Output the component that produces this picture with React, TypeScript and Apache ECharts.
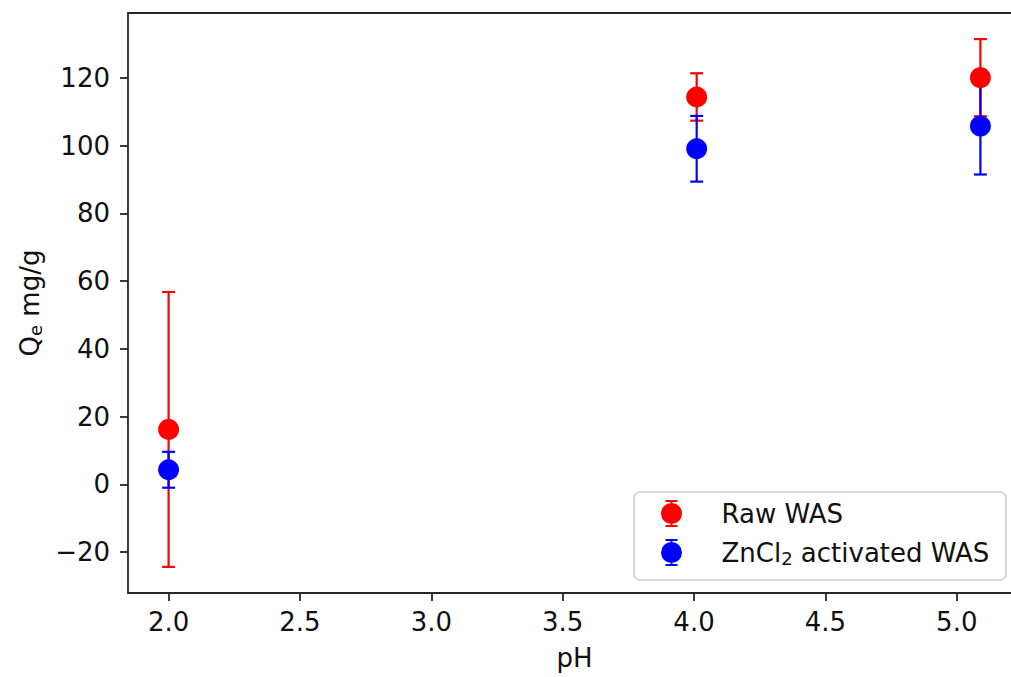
import React, { useEffect, useRef } from "react";
import * as echarts from "echarts";

const phValues = [2.0, 4.01, 5.09];
const rawWas = [16.2, 114.4, 120.1];
const rawWasErr = [40.6, 7.0, 11.4];
const znWas = [4.3, 99.1, 105.8];
const znWasErr = [5.3, 9.7, 14.3];
const xTicks = [2.0, 2.5, 3.0, 3.5, 4.0, 4.5, 5.0];
const yTicks = [-20, 0, 20, 40, 60, 80, 100, 120];

const RAW_NAME = "Raw WAS";
const ZN_NAME = "ZnCl2 activated WAS";

const FONT = "DejaVu Sans";
const FS = 26;
const TXT = "#111111";
const FRAME = "#262626";

const ICON =
  "path://M5,0 L17,0 L17,2 L5,2 Z M10,0 L12,0 L12,27 L10,27 Z M5,25 L17,25 L17,27 L5,27 Z M0.5,13.5 A10.5,10.5 0 1,1 21.5,13.5 A10.5,10.5 0 1,1 0.5,13.5 Z";

function errData(vals: number[], errs: number[]) {
  return phValues.map((x, i) => [x, vals[i] - errs[i], vals[i] + errs[i]]);
}

function errSeries(name: string, vals: number[], errs: number[], color: string) {
  return {
    type: "custom",
    name,
    data: errData(vals, errs),
    encode: { x: 0, y: [1, 2] },
    renderItem: (params: any, api: any) => {
      const x = api.value(0);
      const lo = api.value(1);
      const hi = api.value(2);
      const p1 = api.coord([x, hi]);
      const p2 = api.coord([x, lo]);
      const hw = 6.5;
      const style = { stroke: color, lineWidth: 2.2 };
      return {
        type: "group",
        children: [
          { type: "line", shape: { x1: p1[0], y1: p1[1], x2: p2[0], y2: p2[1] }, style },
          { type: "line", shape: { x1: p1[0] - hw, y1: p1[1], x2: p1[0] + hw, y2: p1[1] }, style },
          { type: "line", shape: { x1: p2[0] - hw, y1: p2[1], x2: p2[0] + hw, y2: p2[1] }, style },
        ],
      };
    },
    z: 2,
  };
}

function dotSeries(name: string, vals: number[], color: string) {
  return {
    type: "scatter",
    name,
    data: phValues.map((x, i) => [x, vals[i]]),
    symbol: "circle",
    symbolSize: 21,
    itemStyle: { color, opacity: 1 },
    z: 2,
  };
}

const richText = {
  a: { fontSize: FS, fontFamily: FONT, color: TXT, lineHeight: 29 },
  s: { fontSize: 18, fontFamily: FONT, color: TXT, lineHeight: 12, verticalAlign: "bottom" },
  g: { width: 34 },
};

export default function App() {
  const ref = useRef<HTMLDivElement>(null);
  useEffect(() => {
    if (!ref.current) return;
    const chart = echarts.init(ref.current, null, { renderer: "svg" });
    const option: any = {
      animation: false,
      backgroundColor: "#ffffff",
      grid: {
        left: 128,
        top: 13,
        width: 893,
        height: 580,
        show: true,
        borderColor: FRAME,
        borderWidth: 1.8,
        backgroundColor: "transparent",
        containLabel: false,
        outerBoundsMode: "none",
      },
      xAxis: {
        type: "value",
        min: 1.8455,
        max: 5.2445,
        name: "pH",
        nameLocation: "middle",
        nameGap: 52,
        nameTextStyle: { fontSize: FS, fontFamily: FONT, color: TXT },
        axisLine: { show: false, onZero: false },
        splitLine: { show: false },
        axisTick: {
          show: true,
          customValues: xTicks,
          length: 8,
          lineStyle: { color: FRAME, width: 1.8 },
        },
        axisLabel: {
          customValues: xTicks,
          margin: 16,
          fontSize: FS,
          fontFamily: FONT,
          color: TXT,
          formatter: (v: number) => v.toFixed(1),
        },
      },
      yAxis: {
        type: "value",
        min: -32.1,
        max: 139.2,
        name: "{a|Q}{s|e}{a| mg/g}",
        nameLocation: "middle",
        nameRotate: 90,
        nameGap: 79,
        nameTextStyle: { fontSize: FS, fontFamily: FONT, color: TXT, rich: richText },
        axisLine: { show: false, onZero: false },
        splitLine: { show: false },
        axisTick: {
          show: true,
          customValues: yTicks,
          length: 8,
          lineStyle: { color: FRAME, width: 1.8 },
        },
        axisLabel: {
          customValues: yTicks,
          margin: 18,
          fontSize: FS,
          fontFamily: FONT,
          color: TXT,
          formatter: (v: number) => (v < 0 ? "\u2212" + Math.abs(v) : String(v)),
        },
      },
      legend: {
        data: [RAW_NAME, ZN_NAME],
        orient: "vertical",
        left: 661,
        top: 500,
        padding: 0,
        itemWidth: 22,
        itemHeight: 27,
        itemGap: 12,
        icon: ICON,
        selectedMode: false,
        textStyle: { fontSize: FS, fontFamily: FONT, color: TXT, rich: richText },
        formatter: (name: string) =>
          name === ZN_NAME ? "{g|}{a|ZnCl}{s|2}{a| activated WAS}" : "{g|}{a|" + name + "}",
        z: 5,
      },
      graphic: [
        {
          type: "rect",
          z: 4,
          shape: { x: 634, y: 492, width: 372, height: 88, r: 6 },
          style: { fill: "rgba(255,255,255,0.8)", stroke: "#cccccc", lineWidth: 1.6 },
        },
      ],
      series: [
        errSeries("raw-err", rawWas, rawWasErr, "#ff0000"),
        dotSeries(RAW_NAME, rawWas, "#ff0000"),
        errSeries("zn-err", znWas, znWasErr, "#0000ff"),
        dotSeries(ZN_NAME, znWas, "#0000ff"),
      ],
    };
    chart.setOption(option);
    return () => chart.dispose();
  }, []);
  return (
    <div
      ref={ref}
      style={{ position: "fixed", left: 0, top: 0, width: 1011, height: 677, background: "#fff" }}
    />
  );
}
